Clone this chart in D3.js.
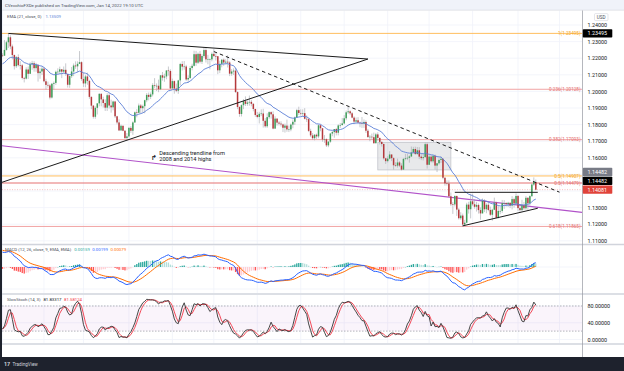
<!DOCTYPE html>
<html>
<head>
<meta charset="utf-8">
<script src="https://cdn.jsdelivr.net/npm/d3@7/dist/d3.min.js"></script>
<style>
html,body{margin:0;padding:0;background:#1e222d;}
svg{display:block;}
text{font-family:Roboto,"Noto Sans","DejaVu Sans",sans-serif;}
</style>
</head>
<body>
<svg id="chart" width="624" height="371"></svg>
<script>
// ================= DATA : EUR/USD daily =================
// Candle rows: [high, low, close] in pips above 1.0000 (2215 -> 1.2215). Open = previous close.
// Warm-up closes (Oct-Dec 2020) used only to seed the EMA / MACD indicators.
const preCloses = [1756,1715,1780,1777,1762,1800,1826,1813,1745,1706,1721,1717,1778,1860,1820,1857,1812,1830,1788,1745,1672,1648,
  1640,1715,1723,1830,1875,1815,1812,1778,1807,1833,1855,1862,1853,1872,1858,1841,1886,1916,1917,1962,1927,
  2071,2115,2147,2121,2108,2100,2080,2131,2111,2146,2152,2196,2264,2255,2240,2162,2189,2188,2183,2214,2251,2298,2216];
const jan21 = [[2230,2210,2215],[2310,2218,2250],[2305,2245,2296],[2349,2262,2326],[2338,2254,2271],[2282,2193,2219],[2222,2132,2152],[2213,2141,2206],[2223,2150,2158],[2182,2132,2157],[2165,2072,2081],[2088,2054,2077],[2145,2072,2132],[2150,2075,2106],[2175,2106,2164],[2184,2130,2170],[2182,2119,2140],[2172,2118,2160],[2163,2059,2110],[2140,2076,2120],[2150,2099,2137]];
const feb21 = [[2145,2055,2061],[2076,2011,2039],[2059,2022,2036],[2045,1952,1963],[2051,1957,2046],[2060,2012,2051],[2125,2039,2118],[2139,2105,2119],[2149,2106,2133],[2132,2080,2119],[2150,2110,2130],[2169,2094,2105],[2107,2023,2040],[2097,2022,2092],[2147,2081,2120],[2168,2092,2156],[2181,2136,2151],[2181,2115,2166],[2243,2165,2176],[2181,2064,2075]];
const mar21 = [[2113,2027,2048],[2100,2025,2090],[2113,2040,2063],[2070,1955,1967],[1970,1893,1914],[1918,1836,1847],[1910,1835,1901],[1927,1861,1928],[1990,1910,1985],[1990,1910,1952],[1968,1903,1930],[1952,1882,1902],[1989,1882,1977],[1990,1897,1915],[1950,1872,1904],[1944,1886,1939],[1943,1840,1850],[1853,1802,1813],[1832,1761,1765],[1800,1762,1793],[1793,1760,1763],[1766,1713,1719],[1749,1704,1729]];
const apr21 = [[1786,1721,1780],[1791,1750,1763],[1820,1738,1813],[1879,1810,1874],[1893,1844,1871],[1927,1870,1915],[1924,1868,1899],[1920,1872,1911],[1950,1868,1947],[1990,1935,1979],[1993,1946,1967],[1994,1954,1982],[2049,1970,2038],[2080,2021,2034],[2048,2002,2034],[2071,1995,2013],[2097,2008,2097],[2117,2065,2083],[2107,2058,2090],[2128,2073,2126],[2150,2095,2123],[2133,2013,2018]];
const may21 = [[2077,2016,2062],[2066,1986,2017],[2047,1995,2004],[2070,1985,2066],[2172,2036,2165],[2182,2126,2149],[2183,2131,2150],[2160,2063,2072],[2097,2052,2081],[2153,2075,2141],[2167,2127,2154],[2245,2150,2224],[2244,2154,2173],[2234,2165,2226],[2243,2169,2179],[2224,2165,2213],[2266,2202,2249],[2262,2174,2193],[2220,2163,2193],[2198,2133,2193],[2235,2181,2226]];
const jun21 = [[2254,2208,2213],[2229,2186,2212],[2212,2104,2127],[2185,2110,2166],[2194,2145,2191],[2198,2154,2174],[2194,2163,2179],[2218,2144,2174],[2182,2092,2107],[2134,2094,2120],[2139,2099,2125],[2141,1991,1996],[2000,1893,1906],[1910,1847,1864],[1922,1849,1917],[1954,1893,1941],[1970,1912,1925],[1946,1913,1933],[1975,1914,1937],[1949,1910,1925],[1929,1880,1894],[1896,1847,1858]];
const jul21 = [[1876,1838,1846],[1877,1807,1865],[1892,1851,1867],[1895,1782,1823],[1839,1781,1790],[1868,1780,1845],[1880,1835,1875],[1880,1836,1862],[1880,1772,1776],[1850,1774,1836],[1838,1794,1812],[1821,1795,1806],[1820,1788,1801],[1806,1755,1781],[1806,1752,1794],[1830,1757,1771],[1794,1755,1771],[1807,1760,1800],[1831,1778,1817],[1849,1798,1843],[1895,1845,1887],[1908,1858,1870]];
const aug21 = [[1892,1855,1868],[1892,1850,1869],[1899,1831,1835],[1856,1816,1833],[1839,1755,1762],[1775,1725,1735],[1749,1707,1718],[1743,1705,1739],[1746,1714,1729],[1802,1718,1796],[1800,1760,1778],[1779,1697,1710],[1737,1690,1712],[1717,1665,1675],[1701,1664,1697],[1750,1690,1746],[1762,1730,1755],[1773,1721,1773],[1780,1735,1751],[1802,1735,1795],[1810,1780,1797],[1840,1795,1807]];
const sep21 = [[1857,1802,1838],[1885,1826,1874],[1909,1864,1880],[1886,1857,1868],[1876,1838,1842],[1850,1803,1818],[1843,1809,1826],[1845,1810,1812],[1818,1784,1808],[1846,1780,1806],[1831,1780,1816],[1826,1750,1763],[1774,1720,1725],[1737,1700,1727],[1746,1710,1724],[1752,1684,1688],[1750,1686,1741],[1754,1702,1720],[1720,1680,1696],[1698,1668,1683],[1686,1589,1597],[1600,1563,1580]];
const oct21 = [[1609,1572,1595],[1640,1590,1620],[1620,1580,1598],[1603,1529,1555],[1573,1546,1553],[1595,1541,1572],[1580,1544,1553],[1567,1524,1529],[1599,1528,1593],[1624,1585,1597],[1624,1586,1600],[1615,1571,1608],[1668,1605,1632],[1666,1626,1653],[1667,1617,1623],[1665,1617,1645],[1664,1592,1607],[1626,1586,1598],[1624,1584,1604],[1692,1601,1682],[1692,1535,1558]];
const nov21 = [[1616,1561,1607],[1614,1572,1579],[1616,1570,1612],[1620,1529,1553],[1568,1514,1567],[1597,1559,1587],[1608,1569,1594],[1597,1471,1480],[1482,1432,1446],[1464,1433,1445],[1464,1364,1368],[1391,1309,1320],[1333,1262,1319],[1374,1307,1370],[1373,1250,1288],[1297,1228,1236],[1272,1226,1252],[1264,1186,1198],[1226,1186,1209],[1329,1206,1318],[1335,1264,1290],[1383,1235,1338]];
const dec21 = [[1383,1311,1320],[1351,1293,1305],[1335,1276,1316],[1325,1264,1285],[1301,1227,1265],[1355,1265,1341],[1351,1273,1290],[1326,1266,1317],[1337,1278,1286],[1306,1250,1257],[1293,1221,1287],[1360,1285,1330],[1336,1236,1239],[1309,1234,1280],[1303,1260,1280],[1346,1268,1327],[1345,1292,1327],[1334,1306,1321],[1335,1304,1329],[1331,1297,1312],[1369,1289,1351],[1360,1300,1325],[1386,1314,1370]];
const jan22 = [[1376,1280,1297],[1320,1272,1285],[1347,1275,1313],[1334,1285,1296],[1369,1286,1359],[1362,1285,1326],[1374,1313,1369],[1446,1364,1439],[1482,1431,1454],[1469,1404,1408]];

const tickLabels = ["2021","Feb","Mar","Apr","May","Jun","Jul","Aug","Sep","Oct","Nov","Dec","2022","Feb"];
const tickDates  = ["2021-01-01","2021-02-01","2021-03-01","2021-04-01","2021-05-01","2021-06-01","2021-07-01","2021-08-01","2021-09-01","2021-10-01","2021-11-01","2021-12-01","2022-01-01","2022-02-01"];
const priceTicks = [1.11,1.12,1.13,1.14,1.15,1.16,1.17,1.18,1.19,1.20,1.21,1.22,1.23,1.24];
const macdTicks  = [0.01,0,-0.01];
const stochTicks = [80,40,0];

const fibLabels = ["1(1.23495)","0.236(1.20128)","0.382(1.17093)","0.5(1.14907)","0.5(1.14479)","0.618(1.11865)"];
const fibPrices = [1.23495,1.20128,1.17093,1.14907,1.14479,1.11865];
const fibTone   = ["gold","red","red","gold","red","red"];

const priceTags  = [1.23495,1.14482,1.14482,1.14081];
const lastPrice  = 1.14081;

// drawn trendlines: [date, price] anchors
const triUpper   = [["2021-01-06",1.2349],["2021-09-17",1.2195]];
const triLower   = [["2021-03-31",1.1706],["2021-09-17",1.2195]];
const dashDown   = [["2021-06-01",1.2240],["2022-02-01",1.1393]];
const purpleLine = [["2021-01-01",1.1672],["2022-02-01",1.1287]];
const rangeTop   = [["2021-11-18",1.1392],["2022-01-17",1.1392]];
const rangeBase  = [["2021-11-24",1.1190],["2022-01-17",1.1296]];
const consolBox  = [["2021-09-24",1.1693],["2021-11-16",1.1527]];

const headerText = "CVecchioFXDe published on TradingView.com, Jan 14, 2022 19:10 UTC";
const emaTitle = ["EMA (21, close, 0)","1.13509"];
const macdTitle = ["MACD (12, 26, close, 9, EMA, EMA)","0.00159","0.00199","0.00079"];
const stochTitle = ["SlowStoch (14, 3)","81.83317","81.58124"];
const noteLines = ["Descending trendline from","2008 and 2014 highs"];

// ================= BUILD =================
const P = v => 1 + v / 10000;
const rows = [].concat(jan21,feb21,mar21,apr21,may21,jun21,jul21,aug21,sep21,oct21,nov21,dec21,jan22);
const dates = [];
for (let d = new Date(Date.UTC(2021,0,1)); dates.length < 320; d.setUTCDate(d.getUTCDate()+1)) {
  const w = d.getUTCDay(); if (w !== 0 && w !== 6) dates.push(new Date(d));
}
const iso = d => d.toISOString().slice(0,10);
const idxOf = s => dates.findIndex(d => iso(d) >= s);
let prevC = P(preCloses[preCloses.length-1]);
const candles = rows.map((r,i) => { const o = prevC, c = P(r[2]); prevC = c; return {i, o, h:P(r[0]), l:P(r[1]), c}; });

function ema(arr,n){ const k = 2/(n+1), out = []; arr.forEach((v,i)=>out.push(i ? v*k + out[i-1]*(1-k) : v)); return out; }
const allC = preCloses.map(P).concat(candles.map(d=>d.c));
const off = preCloses.length;
const ema21 = ema(allC,21).slice(off);
const e12 = ema(allC,12), e26 = ema(allC,26);
const macdAll = e12.map((v,i)=>v-e26[i]);
const sigAll = ema(macdAll,9);
const macd = macdAll.slice(off), sig = sigAll.slice(off);
const hist = macd.map((v,i)=>v-sig[i]);
const rawK = candles.map((d,i)=>{ const w = candles.slice(Math.max(0,i-13),i+1); const hh = d3.max(w,e=>e.h), ll = d3.min(w,e=>e.l); return 100*(d.c-ll)/(hh-ll); });
const sma = (a,n)=>a.map((v,i)=>d3.mean(a.slice(Math.max(0,i-n+1),i+1)));
const stK = sma(rawK,3), stD = sma(stK,3);

// ================= LAYOUT =================
const PL = 2, PR = 582;
const main = {t:10.5, b:244}, mp = {t:245.5, b:293}, sp = {t:295, b:343.5};
const x  = d3.scaleLinear().domain([0,282]).range([2.5,559.5]);
const y  = d3.scaleLinear().domain([1.11,1.24]).range([240.8,25]);
const ym = d3.scaleLinear().domain([-0.01,0.01]).range([289,245]);
const ys = d3.scaleLinear().domain([0,100]).range([339.5,297.6]);
const C = {up:"#3f9e5a", down:"#b5383b", wick:"#a3a6ad", grid:"#f0f3fa", sep:"#d1d4dc", ema:"#5b7fd6",
  gold:"#ffb74d", goldTxt:"#f5a623", red:"#ef9a9a", redTxt:"#e57373", purple:"#b152c9",
  macd:"#2962ff", sig:"#ff6d00", kLine:"#333333", dLine:"#f23645"};

const svg = d3.select("#chart");
const defs = svg.append("defs");
function clip(id, x0, y0, x1, y1){ defs.append("clipPath").attr("id",id).append("rect").attr("x",x0).attr("y",y0).attr("width",x1-x0).attr("height",y1-y0); return `url(#${id})`; }
const cMain = clip("cm",PL,main.t,PR,main.b), cMacd = clip("cmacd",PL,mp.t,PR,mp.b), cSt = clip("cst",PL,sp.t,PR,sp.b);
const cMacdAx = clip("cmax",PR,244.5,624,294), cTime = clip("ctime",PL,344,PR,357);

svg.append("rect").attr("width",624).attr("height",371).attr("fill","#1e222d");
svg.append("rect").attr("x",PL).attr("y",0).attr("width",624-PL).attr("height",357).attr("fill","#ffffff");
svg.append("rect").attr("x",PL).attr("y",0).attr("width",624-PL).attr("height",10).attr("fill","#f0f3fa");
svg.append("text").attr("x",5).attr("y",6.8).attr("font-size",4.4).attr("fill","#4a4e59").text(headerText);

const tickIdx = tickDates.map(idxOf);

// grids
const g = svg.append("g");
[[main,cMain],[mp,cMacd],[sp,cSt]].forEach(([p,cp])=>{
  g.append("g").attr("clip-path",cp).selectAll("line").data(tickIdx).join("line")
    .attr("x1",d=>x(d)).attr("x2",d=>x(d)).attr("y1",p.t).attr("y2",p.b).attr("stroke",C.grid).attr("stroke-width",0.8);
});
g.append("g").attr("clip-path",cMain).selectAll("line").data(priceTicks).join("line")
  .attr("x1",PL).attr("x2",PR).attr("y1",d=>y(d)).attr("y2",d=>y(d)).attr("stroke",C.grid).attr("stroke-width",0.8);
g.append("g").attr("clip-path",cMacd).selectAll("line").data(macdTicks).join("line")
  .attr("x1",PL).attr("x2",PR).attr("y1",d=>ym(d)).attr("y2",d=>ym(d)).attr("stroke",C.grid).attr("stroke-width",0.8);
g.append("g").attr("clip-path",cSt).selectAll("line").data(stochTicks).join("line")
  .attr("x1",PL).attr("x2",PR).attr("y1",d=>ys(d)).attr("y2",d=>ys(d)).attr("stroke",C.grid).attr("stroke-width",0.8);

// ---------- main pane ----------
const m = svg.append("g").attr("clip-path",cMain);
const pt = a => [x(idxOf(a[0])), y(a[1])];
function extLine(anchors, i0, i1){
  const a = anchors.map(v=>[idxOf(v[0]), v[1]]);
  const s = (a[1][1]-a[0][1])/(a[1][0]-a[0][0]);
  return [[x(i0), y(a[0][1]+s*(i0-a[0][0]))],[x(i1), y(a[0][1]+s*(i1-a[0][0]))]];
}
// consolidation box
const b0 = pt(consolBox[0]), b1 = pt(consolBox[1]);
m.append("rect").attr("x",b0[0]).attr("y",b0[1]).attr("width",b1[0]-b0[0]).attr("height",b1[1]-b0[1])
  .attr("fill","rgba(120,123,134,0.17)").attr("stroke","#c3c5cb").attr("stroke-width",0.8);

// fib lines
fibPrices.forEach((p,i)=>{
  const col = fibTone[i]==="gold" ? C.gold : C.red;
  m.append("line").attr("x1",PL).attr("x2",PR).attr("y1",y(p)).attr("y2",y(p)).attr("stroke", i===4 ? "#e57373" : col).attr("stroke-width", i===4?1.1:0.9);
});
fibLabels.forEach((t,i)=>{
  m.append("text").attr("x",580.5).attr("y",y(fibPrices[i])).attr("dy","0.35em").attr("text-anchor","end")
    .attr("font-size",4.6).attr("fill",fibTone[i]==="gold"?C.goldTxt:C.redTxt).text(t);
});
// last price line
m.append("line").attr("x1",PL).attr("x2",PR).attr("y1",y(lastPrice)).attr("y2",y(lastPrice))
  .attr("stroke","#ef9a9a").attr("stroke-width",0.6).attr("stroke-dasharray","1,1.5");

// purple long-term trendline
const pl = extLine(purpleLine, -2, 296);
m.append("line").attr("x1",pl[0][0]).attr("y1",pl[0][1]).attr("x2",pl[1][0]).attr("y2",pl[1][1]).attr("stroke",C.purple).attr("stroke-width",1.1);

// candles
const cg = m.append("g");
cg.selectAll("line").data(candles).join("line")
  .attr("x1",d=>x(d.i)).attr("x2",d=>x(d.i))
  .attr("y1",d=>y(Math.max(d.h,d.o,d.c))).attr("y2",d=>y(Math.min(d.l,d.o,d.c)))
  .attr("stroke",C.wick).attr("stroke-width",0.6);
cg.selectAll("rect").data(candles).join("rect")
  .attr("x",d=>x(d.i)-0.75).attr("width",1.5)
  .attr("y",d=>y(Math.max(d.o,d.c))).attr("height",d=>Math.max(0.6, Math.abs(y(d.o)-y(d.c))))
  .attr("fill",d=>d.c>=d.o?C.up:C.down);

// EMA 21
m.append("path").datum(ema21).attr("fill","none").attr("stroke",C.ema).attr("stroke-width",0.9)
  .attr("d", d3.line().x((d,i)=>x(i)).y(d=>y(d)));

// triangle and trendlines
const tu = extLine(triUpper, idxOf(triUpper[0][0]), idxOf(triUpper[1][0]));
const tl = extLine(triLower, -2, idxOf(triLower[1][0]));
[tu,tl].forEach(l=>m.append("line").attr("x1",l[0][0]).attr("y1",l[0][1]).attr("x2",l[1][0]).attr("y2",l[1][1]).attr("stroke","#1b1b1b").attr("stroke-width",1));
const dl = extLine(dashDown, idxOf(dashDown[0][0]), idxOf(dashDown[1][0]));
m.append("line").attr("x1",dl[0][0]).attr("y1",dl[0][1]).attr("x2",dl[1][0]).attr("y2",dl[1][1]).attr("stroke","#1b1b1b").attr("stroke-width",1).attr("stroke-dasharray","3.5,3");
[rangeTop, rangeBase].forEach(a=>{
  const l = extLine(a, idxOf(a[0][0]), idxOf(a[1][0]));
  m.append("line").attr("x1",l[0][0]).attr("y1",l[0][1]).attr("x2",l[1][0]).attr("y2",l[1][1]).attr("stroke","#1b1b1b").attr("stroke-width",1);
});

// annotation
m.append("text").attr("x",151).attr("y",160).attr("font-size",7).attr("font-family","DejaVu Sans").attr("font-weight","bold").attr("fill","#131722").text("↱");
noteLines.forEach((t,i)=>m.append("text").attr("x",159.3).attr("y",154.6+i*6.4).attr("font-size",5.6).attr("fill","#131722").text(t));

// EMA title
const et = svg.append("text").attr("x",7).attr("y",18.2).attr("font-size",4.3).attr("fill","#4a4e59");
et.append("tspan").text(emaTitle[0]);
et.append("tspan").attr("dx",4).attr("fill",C.ema).text(emaTitle[1]);

// ---------- MACD pane ----------
const mg = svg.append("g").attr("clip-path",cMacd);
mg.selectAll("rect").data(hist).join("rect")
  .attr("x",(d,i)=>x(i)-0.65).attr("width",1.3)
  .attr("y",d=>Math.min(ym(d),ym(0))).attr("height",d=>Math.max(0.3,Math.abs(ym(d)-ym(0))))
  .attr("fill",(d,i)=>{ const p = i? hist[i-1] : d; return d>=0 ? (d>=p? "#26a69a":"#b2dfdb") : (d<=p? "#ff5252":"#ffcdd2"); });
mg.append("path").datum(sig).attr("fill","none").attr("stroke",C.sig).attr("stroke-width",1).attr("d",d3.line().x((d,i)=>x(i)).y(d=>ym(d)));
mg.append("path").datum(macd).attr("fill","none").attr("stroke",C.macd).attr("stroke-width",1).attr("d",d3.line().x((d,i)=>x(i)).y(d=>ym(d)));
const mt = svg.append("text").attr("x",5).attr("y",251.2).attr("font-size",4.3).attr("fill","#4a4e59");
mt.append("tspan").text(macdTitle[0]);
mt.append("tspan").attr("dx",3).attr("fill","#26a69a").text(macdTitle[1]);
mt.append("tspan").attr("dx",2.5).attr("fill",C.macd).text(macdTitle[2]);
mt.append("tspan").attr("dx",2.5).attr("fill",C.sig).text(macdTitle[3]);

// ---------- Stoch pane ----------
const sg = svg.append("g").attr("clip-path",cSt);
sg.append("rect").attr("x",PL).attr("width",PR-PL).attr("y",ys(80)).attr("height",ys(20)-ys(80)).attr("fill","rgba(156,39,176,0.05)");
[80,20].forEach(v=>sg.append("line").attr("x1",PL).attr("x2",PR).attr("y1",ys(v)).attr("y2",ys(v)).attr("stroke","#9598a1").attr("stroke-width",0.7).attr("stroke-dasharray","1.5,1.5"));
sg.append("path").datum(stD).attr("fill","none").attr("stroke",C.dLine).attr("stroke-width",0.9).attr("d",d3.line().x((d,i)=>x(i)).y(d=>ys(d)));
sg.append("path").datum(stK).attr("fill","none").attr("stroke",C.kLine).attr("stroke-width",0.9).attr("d",d3.line().x((d,i)=>x(i)).y(d=>ys(d)));
const st = svg.append("text").attr("x",7).attr("y",300.6).attr("font-size",4.3).attr("fill","#4a4e59");
st.append("tspan").text(stochTitle[0]);
st.append("tspan").attr("dx",3).attr("fill","#131722").text(stochTitle[1]);
st.append("tspan").attr("dx",2.5).attr("fill",C.dLine).text(stochTitle[2]);

// ---------- separators ----------
[main.b+0.5, mp.b+1, sp.b+0.5].forEach(v=>svg.append("line").attr("x1",PL).attr("x2",624).attr("y1",v).attr("y2",v).attr("stroke",C.sep).attr("stroke-width",1.6));
svg.append("line").attr("x1",PL).attr("x2",624).attr("y1",10.2).attr("y2",10.2).attr("stroke",C.sep).attr("stroke-width",0.6);
svg.append("line").attr("x1",PR+0.5).attr("x2",PR+0.5).attr("y1",10.5).attr("y2",357).attr("stroke","#9598a1").attr("stroke-width",0.7);

// ---------- price tags (stacked bottom-up) ----------
const tagStyle = ["#000000","#787b86","#000000","#e0433a"];
const stackY = [];
for (let i = priceTags.length-1; i >= 0; i--) {
  let yy = y(priceTags[i]);
  if (i < priceTags.length-1 && Math.abs(stackY[i+1] - yy) < 8.8) yy = stackY[i+1] - 8.8;
  stackY[i] = yy;
}

// ---------- axes ----------
function styleAxis(sel, size){
  sel.select(".domain").remove();
  sel.attr("font-family",null).attr("font-size",null);
  sel.selectAll("text").attr("font-size",size).attr("fill","#131722");
}
const freeTicks = priceTicks.filter(t => stackY.every(s => Math.abs(y(t)-s) > 7.5));
const ay = svg.append("g").attr("transform",`translate(${PR},0)`)
  .call(d3.axisRight(y).tickValues(freeTicks).tickFormat(d=>d.toFixed(5)).tickSize(0).tickPadding(5.5));
styleAxis(ay,5.4);
const aym = svg.append("g").attr("transform",`translate(${PR},0)`).attr("clip-path",cMacdAx)
  .call(d3.axisRight(ym).tickValues(macdTicks).tickFormat(d=>d.toFixed(5)).tickSize(0).tickPadding(5.5));
styleAxis(aym,5.4);
aym.selectAll("text").filter(d=>d===0.01).attr("dy","0.75em");
const ays = svg.append("g").attr("transform",`translate(${PR},0)`)
  .call(d3.axisRight(ys).tickValues(stochTicks).tickFormat(d=>d.toFixed(5)).tickSize(0).tickPadding(5.5));
styleAxis(ays,5.4);
const ax = svg.append("g").attr("transform",`translate(0,347.5)`).attr("clip-path",cTime)
  .call(d3.axisBottom(x).tickValues(tickIdx).tickFormat((d,i)=>tickLabels[i]).tickSize(0).tickPadding(2));
styleAxis(ax,5.4);
ax.selectAll("text").attr("fill","#4a4e59").filter((d,i)=>tickLabels[i]==="2022").attr("font-weight","bold").attr("fill","#131722");

// USD badge
svg.append("rect").attr("x",594.5).attr("y",13.6).attr("width",13.5).attr("height",7).attr("rx",1).attr("fill","#fff").attr("stroke","#d1d4dc").attr("stroke-width",0.6);
svg.append("text").attr("x",601.2).attr("y",17.1).attr("dy","0.35em").attr("text-anchor","middle").attr("font-size",4.6).attr("fill","#4a4e59").text("USD");

priceTags.forEach((v,i)=>{
  svg.append("rect").attr("x",PR+0.8).attr("y",stackY[i]-4.2).attr("width",29.5).attr("height",8.4).attr("rx",0.8).attr("fill",tagStyle[i]);
  svg.append("text").attr("x",PR+5.5).attr("y",stackY[i]).attr("dy","0.35em").attr("font-size",5.4).attr("fill","#ffffff").text(v.toFixed(5));
});

// footer
svg.append("rect").attr("x",0).attr("y",357).attr("width",624).attr("height",14).attr("fill","#1e222d");
svg.append("text").attr("x",4).attr("y",366.2).attr("font-size",5.4).attr("font-weight","bold").attr("fill","#d1d4dc").text("17");
svg.append("text").attr("x",12.5).attr("y",366).attr("font-size",4.6).attr("fill","#d1d4dc").text("TradingView");
</script>
</body>
</html>
